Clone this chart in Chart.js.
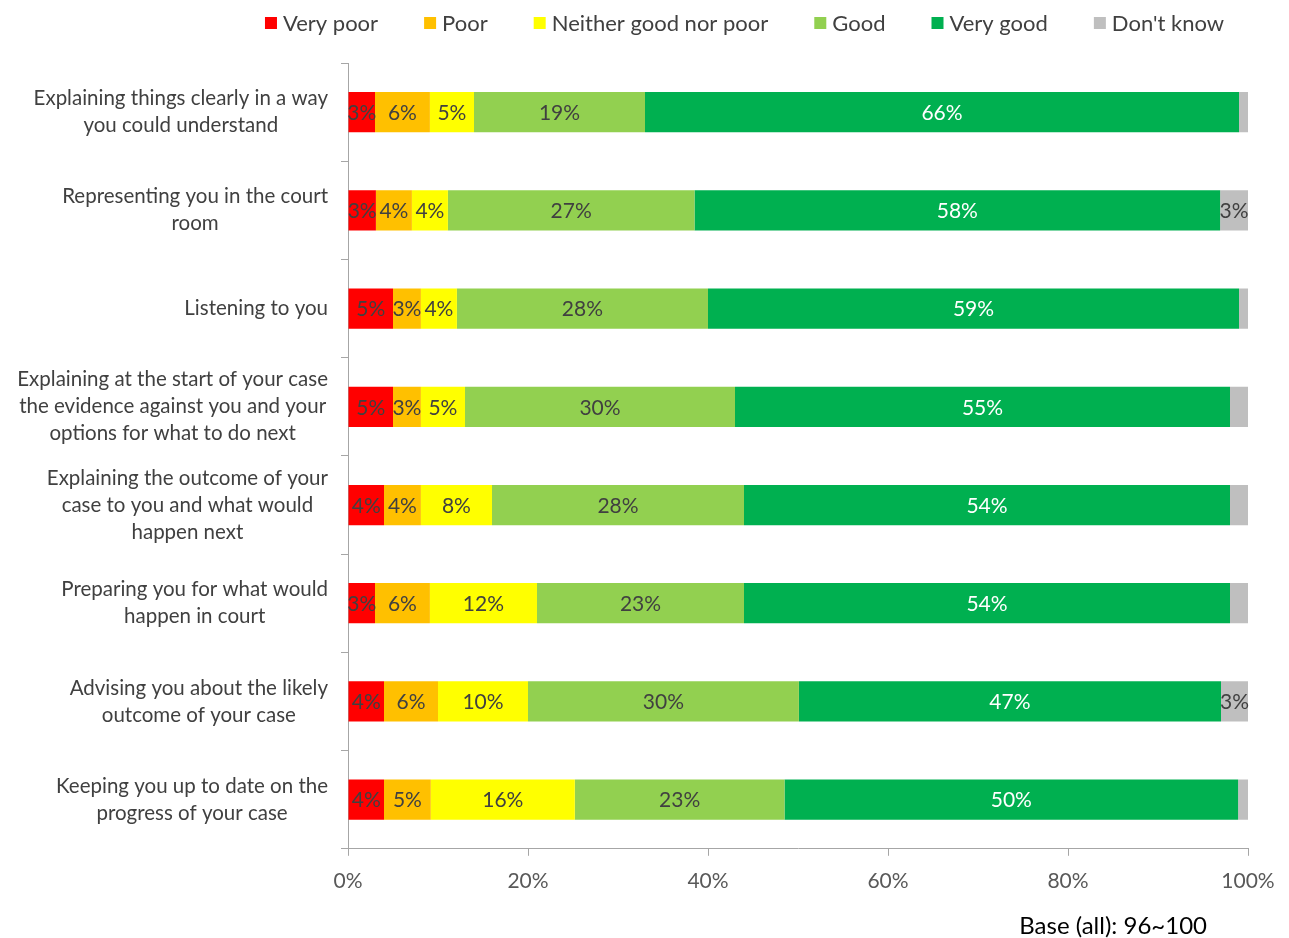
<!DOCTYPE html>
<html>
<head>
<meta charset="utf-8">
<script src="https://cdn.jsdelivr.net/npm/chart.js@4.4.1/dist/chart.umd.min.js"></script>
<style>
  body { margin: 0; background: #fff; }
  #wrap { width: 1289px; height: 938px; position: relative; }
</style>
</head>
<body>
<div id="wrap"><canvas id="chart"></canvas></div>
<script>
const categories = [
  ["Explaining things clearly in a way", "you could understand"],
  ["Representing you in the court", "room"],
  ["Listening to you"],
  ["Explaining at the start of your case", "the evidence against you and your", "options for what to do next"],
  ["Explaining the outcome of your", "case to you and what would", "happen next"],
  ["Preparing you for what would", "happen in court"],
  ["Advising you about the likely", "outcome of your case"],
  ["Keeping you up to date on the", "progress of your case"],
];

const seriesNames = ["Very poor", "Poor", "Neither good nor poor", "Good", "Very good", "Don't know"];

const veryPoor = [3, 3.1, 5, 5, 4, 3, 4, 4];
const poor = [6.1, 4, 3.1, 3.1, 4.1, 6.1, 6, 5.2];
const neither = [4.9, 4, 4, 4.9, 7.9, 11.9, 10, 16];
const good = [19, 27.4, 27.9, 30, 28, 23, 30.1, 23.3];
const veryGood = [66, 58.4, 59, 55, 54, 54, 46.9, 50.4];
const dontKnow = [1, 3.1, 1, 2, 2, 2, 3, 1.1];

const xTicks = [0, 20, 40, 60, 80, 100];
const baseNote = "Base (all): 96~100";

const colors = ["#FF0000", "#FFC000", "#FFFF00", "#92D050", "#00B050", "#BFBFBF"];
const labelColors = ["#404040", "#404040", "#404040", "#404040", "#ffffff", "#404040"];
const FONT = "Lato, 'Open Sans', sans-serif";
const axisColor = "#a6a6a6";

const allSeries = [veryPoor, poor, neither, good, veryGood, dontKnow];

// draws percentages inside the bars
const barLabels = {
  id: "barLabels",
  afterDatasetsDraw(chart) {
    const ctx = chart.ctx;
    ctx.save();
    ctx.font = "21px " + FONT;
    ctx.textAlign = "center";
    ctx.textBaseline = "middle";
    chart.data.datasets.forEach((ds, i) => {
      const meta = chart.getDatasetMeta(i);
      meta.data.forEach((bar, j) => {
        const v = Math.round(ds.data[j]);
        if (v < 3) return;
        const p = bar.getCenterPoint();
        ctx.fillStyle = labelColors[i];
        ctx.fillText(v + "%", p.x, p.y + 1);
      });
    });
    ctx.restore();
  },
};

// category labels: block right aligned, lines centred in the block
const catLabels = {
  id: "catLabels",
  afterDraw(chart) {
    const ctx = chart.ctx;
    const yScale = chart.scales.y;
    const right = chart.chartArea.left - 20;
    const lineH = 27;
    ctx.save();
    ctx.font = "20.5px " + FONT;
    ctx.fillStyle = "#404040";
    ctx.textAlign = "center";
    ctx.textBaseline = "middle";
    categories.forEach((lines, i) => {
      const cy = yScale.getPixelForValue(i);
      const w = Math.max(...lines.map((l) => ctx.measureText(l).width));
      const cx = right - w / 2;
      lines.forEach((l, k) => {
        ctx.fillText(l, cx, cy + (k - (lines.length - 1) / 2) * lineH);
      });
    });

    // legend
    ctx.font = "22px " + FONT;
    ctx.textAlign = "left";
    const box = 12, gapText = 6, gapItem = 46;
    const widths = seriesNames.map((n) => box + gapText + ctx.measureText(n).width);
    const total = widths.reduce((a, b) => a + b, 0) + gapItem * (widths.length - 1);
    let x = 744.5 - total / 2;
    const ly = 23;
    seriesNames.forEach((n, i) => {
      ctx.fillStyle = colors[i];
      ctx.fillRect(x, ly - box / 2, box, box);
      ctx.fillStyle = "#404040";
      ctx.fillText(n, x + box + gapText, ly + 1);
      x += widths[i] + gapItem;
    });

    // base note
    ctx.font = "24px " + FONT;
    ctx.fillStyle = "#000000";
    ctx.textAlign = "right";
    ctx.fillText(baseNote, chart.chartArea.right - 41, 926);
    ctx.restore();
  },
};

const chart = new Chart(document.getElementById("chart"), {
  type: "bar",
  data: {
    labels: categories,
    datasets: seriesNames.map((name, i) => ({
      label: name,
      data: allSeries[i],
      backgroundColor: colors[i],
      borderWidth: 0,
      categoryPercentage: 1,
      barPercentage: 0.41,
    })),
  },
  options: {
    indexAxis: "y",
    responsive: true,
    maintainAspectRatio: false,
    animation: false,
    layout: { padding: { top: 63, right: 41, bottom: 31, left: 0 } },
    plugins: {
      legend: { display: false },
      tooltip: { enabled: false },
    },
    scales: {
      x: {
        stacked: true,
        min: 0,
        max: 100,
        afterBuildTicks: (s) => { s.ticks = xTicks.map((v) => ({ value: v })); },
        ticks: {
          callback: (v) => v + "%",
          color: "#595959",
          font: { family: FONT, size: 21 },
          padding: 13,
          maxRotation: 0,
        },
        grid: { drawOnChartArea: false, tickLength: 7, color: axisColor },
        border: { color: axisColor },
      },
      y: {
        stacked: true,
        ticks: { display: false },
        grid: { drawOnChartArea: false, tickLength: 7, color: axisColor },
        border: { color: axisColor },
        afterFit: (s) => { s.width = 348; },
      },
    },
  },
  plugins: [barLabels, catLabels],
});
</script>
</body>
</html>
